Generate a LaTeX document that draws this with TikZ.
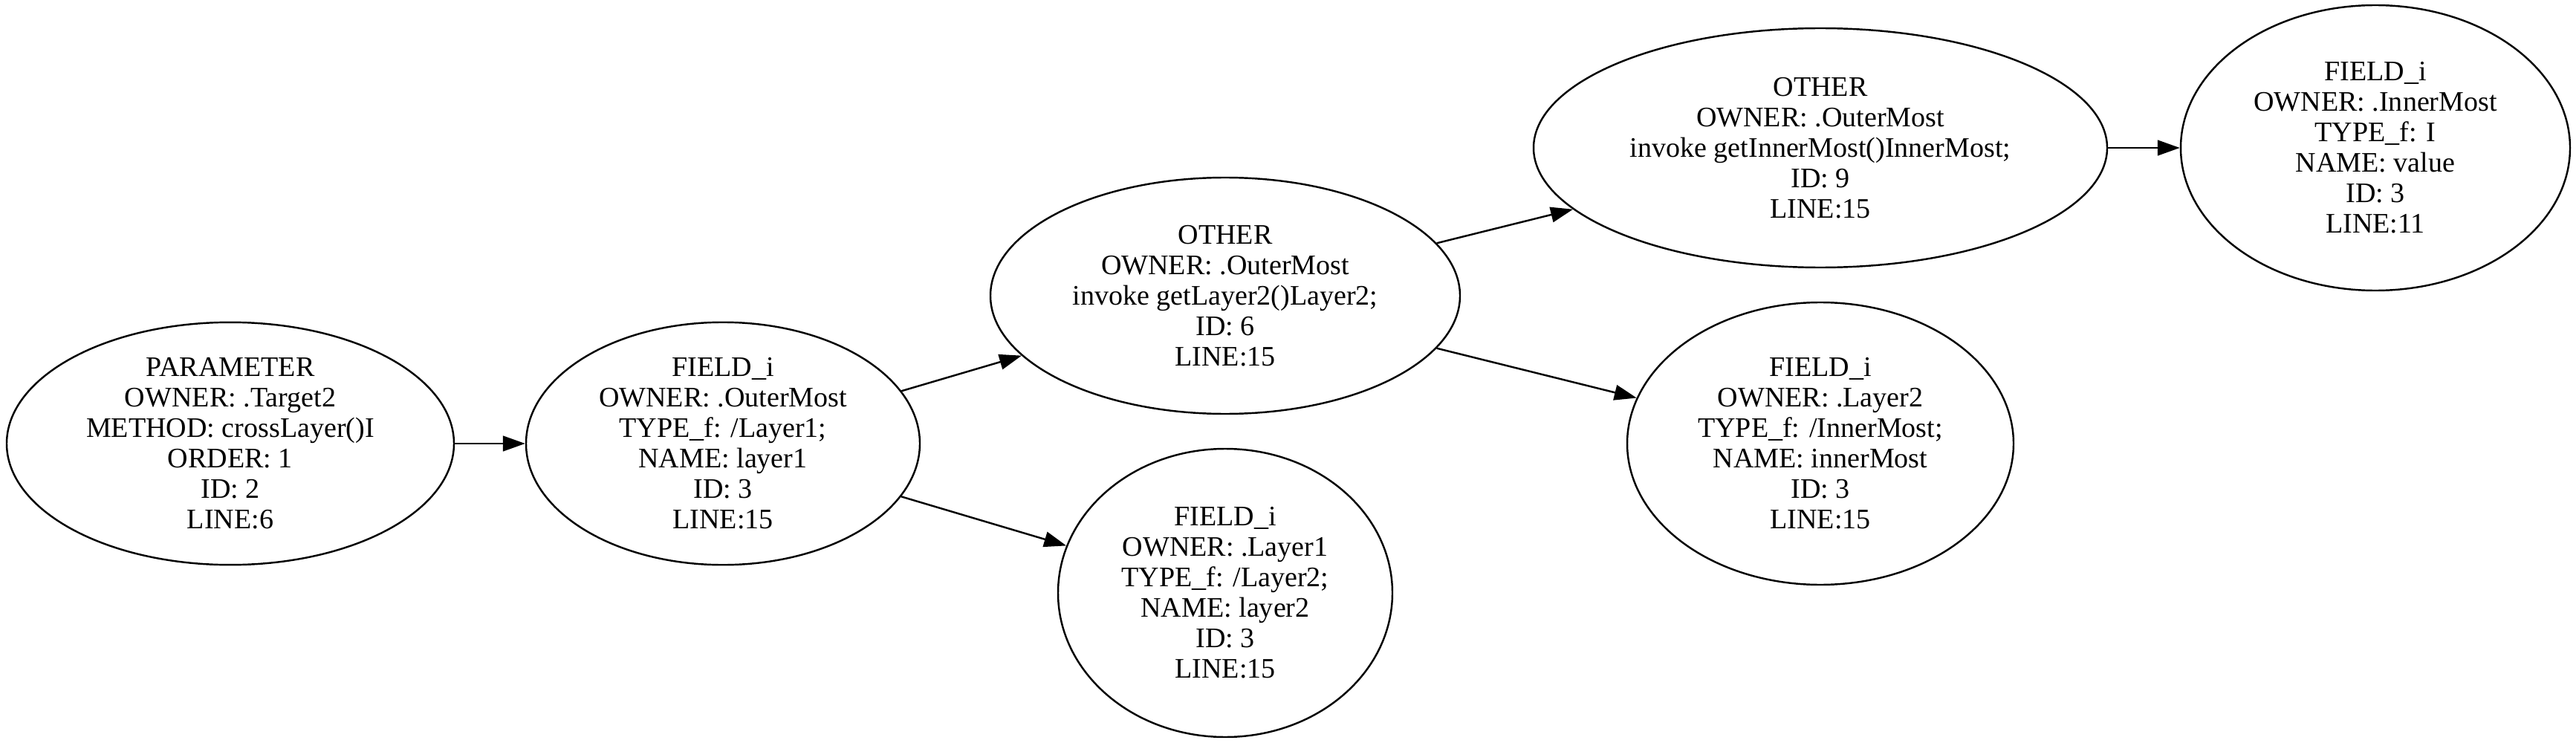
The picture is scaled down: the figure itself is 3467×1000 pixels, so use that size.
\documentclass[tikz,border=0pt]{standalone}
\usepackage{fontspec}
\setmainfont{Liberation Serif}
\usetikzlibrary{shapes.geometric,arrows.meta}
\begin{document}
\begin{tikzpicture}[x=0.368pt,y=-0.368pt,
  ell/.style 2 args={draw,line width=0.9pt,ellipse,inner sep=0pt,align=center,
    minimum width=#1*0.736pt,minimum height=#2*0.736pt,
    font=\fontsize{14}{15.1}\selectfont},
  edge/.style={draw,line width=0.9pt,-{Triangle[length=11pt,width=7.6pt]}}]
\useasboundingbox (0,0) rectangle (3467,1000);
\node[ell={301}{157}] (a) at (310,597) {PARAMETER\\OWNER: .Target2\\METHOD: crossLayer()I\\ORDER: 1\\ID: 2\\LINE:6};
\node[ell={265}{157}] (b) at (973,597) {FIELD\_i\\OWNER: .OuterMost\\TYPE\_f: /Layer1;\\NAME: layer1\\ID: 3\\LINE:15};
\node[ell={316}{159}] (c) at (1649,398) {OTHER\\OWNER: .OuterMost\\invoke getLayer2()Layer2;\\ID: 6\\LINE:15};
\node[ell={225}{194}] (d) at (1649,798) {FIELD\_i\\OWNER: .Layer1\\TYPE\_f: /Layer2;\\NAME: layer2\\ID: 3\\LINE:15};
\node[ell={386}{161}] (e) at (2450,199) {OTHER\\OWNER: .OuterMost\\invoke getInnerMost()InnerMost;\\ID: 9\\LINE:15};
\node[ell={260}{190}] (f) at (2450,597) {FIELD\_i\\OWNER: .Layer2\\TYPE\_f: /InnerMost;\\NAME: innerMost\\ID: 3\\LINE:15};
\node[ell={262}{192}] (g) at (3197,199) {FIELD\_i\\OWNER: .InnerMost\\TYPE\_f: I\\NAME: value\\ID: 3\\LINE:11};
\draw[edge] (a) -- (b);
\draw[edge] (b) -- (c);
\draw[edge] (b) -- (d);
\draw[edge] (c) -- (e);
\draw[edge] (c) -- (f);
\draw[edge] (e) -- (g);
\end{tikzpicture}
\end{document}
